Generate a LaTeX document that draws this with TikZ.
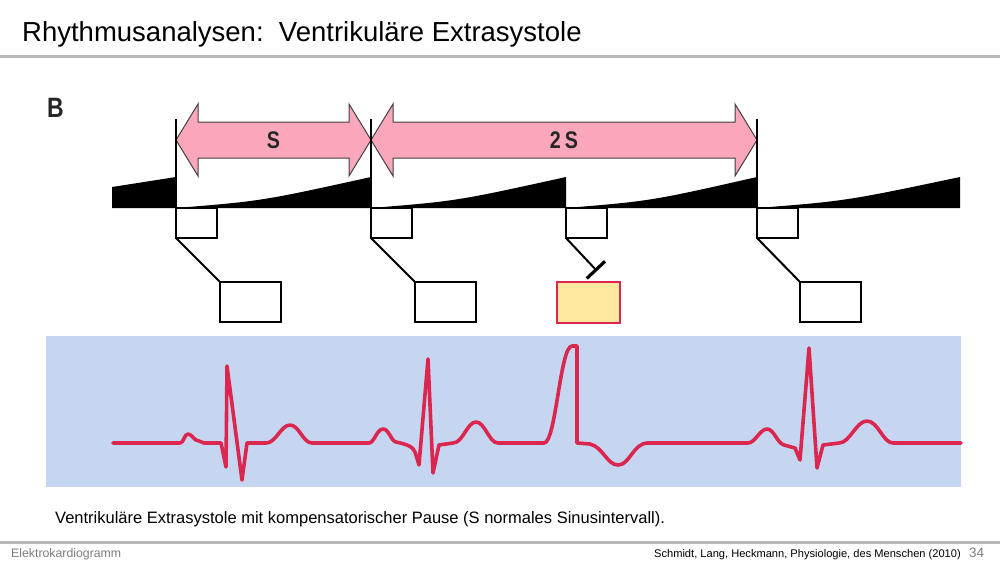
\documentclass[tikz,border=0pt]{standalone}
\usepackage{fontspec}
\setmainfont{Liberation Sans}
\newfontfamily\labelfont[FakeStretch=0.82]{Liberation Sans}
\usetikzlibrary{arrows.meta,positioning}

\definecolor{rulegray}{RGB}{185,185,185}
\definecolor{footgray}{RGB}{125,125,125}
\definecolor{arrowpink}{RGB}{250,166,187}
\definecolor{ecgblue}{RGB}{198,214,240}
\definecolor{ecgred}{RGB}{219,38,80}
\definecolor{esyellow}{RGB}{254,231,158}

\begin{document}
\begin{tikzpicture}[x=1pt,y=-1pt,
  rule/.style={draw=rulegray,line width=3pt},
  interval/.style={draw=black!75,line width=1pt,fill=arrowpink},
  pacer/.style={draw=black,line width=2pt},
  sabox/.style={draw=black,line width=2pt,minimum width=41pt,minimum height=30pt,inner sep=0pt,outer sep=0pt,anchor=north west},
  avbox/.style={sabox,minimum width=61pt,minimum height=40pt},
  esbox/.style={avbox,draw=ecgred,line width=2.8pt,fill=esyellow,minimum width=63pt,minimum height=41pt},
  lbl/.style={font=\labelfont\bfseries\fontsize{24}{24}\selectfont,text=black!85,inner sep=0pt},
  ecg/.style={draw=ecgred,line width=3.6pt,line join=round,line cap=round}
]
\useasboundingbox (0,0) rectangle (1000,563);

\node[anchor=base west,font=\fontsize{27.5}{33}\selectfont,inner sep=0pt] (title) at (22,41) {Rhythmusanalysen:\ \ Ventrikuläre Extrasystole};
\draw[rule] (0,56) -- (1000,56);

\node[anchor=base west,font=\labelfont\bfseries\fontsize{28}{28}\selectfont,text=black!85,inner sep=0pt] (panel) at (47,117) {B};

\draw[interval] (176,140) -- (198,104) -- (198,122) -- (349,122) -- (349,104) -- (371,140) -- (349,176) -- (349,158) -- (198,158) -- (198,176) -- cycle;
\draw[interval] (371,140) -- (393,104) -- (393,122) -- (735,122) -- (735,104) -- (757,140) -- (735,176) -- (735,158) -- (393,158) -- (393,176) -- cycle;
\node[lbl] (s) at (273.5,140) {S};
\node[lbl] (ss) at (564,140) {2\,S};

\fill (112,208) -- (112,187) -- (176,177) -- (176,208) -- cycle;
\fill (176,208) .. controls (262,201) .. (371,177) -- (371,208) -- cycle;
\fill (371,208) .. controls (457,201) .. (566,177) -- (566,208) -- cycle;
\fill (566,208) .. controls (651,201) .. (757,177) -- (757,208) -- cycle;
\fill (757,208) .. controls (846,201) .. (960,177) -- (960,208) -- cycle;

\node[sabox] (sa1) at (176,208) {};
\node[sabox] (sa2) at (371,208) {};
\node[sabox] (sa3) at (566,208) {};
\node[sabox] (sa4) at (757,208) {};
\node[avbox] (av1) at (220,282) {};
\node[avbox] (av2) at (415,282) {};
\node[esbox] (es) at (557,282) {};
\node[avbox] (av4) at (800,282) {};
\coordinate (block) at (597,271);

\draw[pacer] (sa1.north west) -- ++(0,-89);
\draw[pacer] (sa2.north west) -- ++(0,-89);
\draw[pacer] (sa4.north west) -- ++(0,-89);
\draw[pacer] (sa1.south west) -- (av1.north west);
\draw[pacer] (sa2.south west) -- (av2.north west);
\draw[pacer] (sa4.south west) -- (av4.north west);
\draw[pacer,-{Bar[width=25pt,line width=3.2pt]}] (sa3.south west) -- (block);

\fill[ecgblue] (46,336) rectangle (961,487);
\draw[ecg] (113,443) -- (180,443)
  .. controls (184,443) and (184,434) .. (188,434)
  .. controls (192,434) and (194,441) .. (199,441)
  -- (204,443) -- (221,443)
  -- (226,467) -- (227,366) -- (242,480) -- (247,443) -- (266,443)
  .. controls (276,443) and (281,425) .. (290,425)
  .. controls (299,425) and (303,443) .. (312,443)
  -- (369,443)
  .. controls (374,443) and (377,429) .. (383,429)
  .. controls (389,429) and (391,441) .. (396,442)
  .. controls (405,444) and (413,446) .. (415,452)
  -- (419,465) -- (428,359) -- (433,473) -- (439,445) -- (453,443)
  .. controls (463,443) and (467,422) .. (476,422)
  .. controls (485,422) and (489,443) .. (498,443)
  -- (544,443)
  .. controls (556,443) and (560,346) .. (572,346)
  -- (577,346) -- (577,443) -- (590,444)
  .. controls (603,447) and (607,465) .. (618,465)
  .. controls (630,465) and (633,443) .. (648,443)
  -- (748,443)
  .. controls (755,443) and (760,429) .. (767,429)
  .. controls (774,429) and (777,443) .. (784,445)
  -- (795,448) -- (800,460) -- (809,348) -- (817,468) -- (823,445) -- (839,443)
  .. controls (850,443) and (856,421) .. (867,421)
  .. controls (878,421) and (883,443) .. (893,443)
  -- (961,443);

\node[anchor=base west,font=\fontsize{16.5}{20}\selectfont,inner sep=0pt] (caption) at (55,523) {Ventrikuläre Extrasystole mit kompensatorischer Pause (S normales Sinusintervall).};

\draw[rule] (0,542) -- (1000,542);
\node[anchor=base west,font=\fontsize{12.3}{14}\selectfont,text=footgray,inner sep=0pt] (chapter) at (11,557) {Elektrokardiogramm};
\node[anchor=base east,font=\fontsize{11.1}{13}\selectfont,inner sep=0pt] (source) at (961,557) {Schmidt, Lang, Heckmann, Physiologie, des Menschen (2010)};
\node[anchor=base west,font=\fontsize{13.5}{15}\selectfont,text=footgray,inner sep=0pt] (page) at (969,557) {34};
\end{tikzpicture}
\end{document}
